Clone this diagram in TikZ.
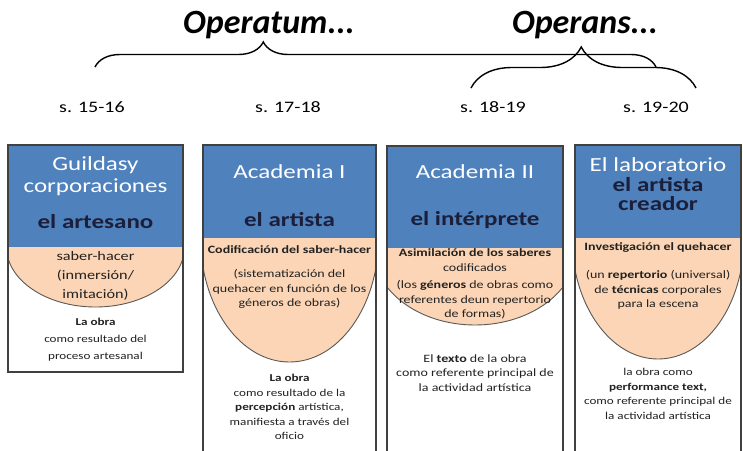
\documentclass[tikz,border=0pt]{standalone}
\usepackage{fontspec}
\setmainfont{Carlito}
\newfontfamily\widefont[FakeStretch=1.25]{Carlito}
\usepackage{tikz}
\usetikzlibrary{positioning,decorations.pathreplacing}

\definecolor{headblue}{HTML}{4F81BD}
\definecolor{peach}{HTML}{FBD5B5}
\definecolor{navy}{HTML}{1C1F3A}
\definecolor{ink}{HTML}{222222}

\begin{document}
\begin{tikzpicture}[x=1pt, y=-1pt,
  colbox/.style={draw=black!75, line width=1.1pt},
  bowl/.style={fill=peach, draw=black!65, line width=0.9pt},
  eratitle/.style={font=\fontsize{34}{34}\selectfont\bfseries\itshape},
  period/.style={font=\widefont\fontsize{16}{16}\selectfont, text=black},
  headw/.style={font=\widefont\fontsize{20}{22}\selectfont, text=white, align=center},
  headd/.style={font=\widefont\bfseries\fontsize{20}{19}\selectfont, text=navy, align=center},
  bodytext/.style={font=\widefont\fontsize{11.2}{14.5}\selectfont, text=ink, align=center},
  lowtext/.style={font=\widefont\fontsize{10.5}{14.5}\selectfont, text=ink, align=center},
  curly/.style={decorate, decoration={brace, amplitude=#1}, line width=1.4pt}
]
\useasboundingbox (0,0) rectangle (743,450);
%titles and periods
\node[eratitle] (opt) at (269,25) {Operatum...};
\node[eratitle] (opn) at (585,25) {Operans...};
\node[period] (s1) at (92,107) {s. 15-16};
\node[period] (s2) at (288,107) {s. 17-18};
\node[period] (s3) at (493,107) {s. 18-19};
\node[period] (s4) at (656,107) {s. 19-20};
\coordinate (b1a) at (95,67);
\coordinate (b1b) at (656,67);
\coordinate (b2a) at (471,88);
\coordinate (b2b) at (696,88);
\draw[curly=25pt, decoration={aspect=0.3}] (b1a) -- (b1b);
\draw[curly=41pt, decoration={aspect=0.49}] (b2a) -- (b2b);

%column 1
\fill[white] (8,145) rectangle (183,372);
\begin{scope}
\clip (8,145) rectangle (183,372);
\draw[bowl] (95.5,247) ellipse [x radius=89, y radius=60];
\fill[headblue] (8,145) rectangle (183,247);
\end{scope}
\draw[colbox] (8,145) rectangle (183,372);
\node[headw] (g1) at (95.5,176) {Guildasy\\corporaciones};
\node[headd] (r1) at (95.5,222) {el artesano};
\node[bodytext, font=\widefont\fontsize{13}{19}\selectfont] (p1) at (95.5,276) {saber-hacer\\(inmersión/\\imitación)};
\node[lowtext, font=\widefont\fontsize{10.5}{17}\selectfont] (o1) at (95.5,340) {\textbf{La obra}\\como resultado del\\proceso artesanal};

%column 2
\fill[white] (203,145) rectangle (376,452);
\begin{scope}
\clip (203,145) rectangle (376,452);
\draw[bowl] (289.5,238) ellipse [x radius=89, y radius=124];
\fill[headblue] (203,145) rectangle (376,238);
\end{scope}
\draw[colbox] (203,452) -- (203,145) -- (376,145) -- (376,452);
\node[headw] (g2) at (289.5,172) {Academia I};
\node[headd] (r2) at (289.5,220) {el artista};
\node[bodytext] (p2a) at (289.5,250) {\textbf{Codificación del saber-hacer}};
\node[bodytext] (p2b) at (289.5,289) {(sistematización del\\quehacer en función de los\\géneros de obras)};
\node[lowtext] (o2) at (289.5,407) {\textbf{La obra}\\como resultado de la\\\textbf{percepción} artística,\\manifiesta a través del\\oficio};

%column 3
\fill[white] (387,146) rectangle (563,452);
\begin{scope}
\clip (387,146) rectangle (563,452);
\draw[bowl] (475,248) ellipse [x radius=102, y radius=77];
\fill[headblue] (387,146) rectangle (563,248);
\end{scope}
\draw[colbox] (387,452) -- (387,146) -- (563,146) -- (563,452);
\node[headw] (g3) at (475,172) {Academia II};
\node[headd] (r3) at (475,220) {el intérprete};
\node[bodytext] (p3a) at (475,260) {\textbf{Asimilación de los saberes}\\codificados};
\node[bodytext] (p3b) at (475,300) {(los \textbf{géneros} de obras como\\referentes deun repertorio\\de formas)};
\node[lowtext, font=\widefont\fontsize{11.2}{14.5}\selectfont] (o3) at (475,373) {El \textbf{texto} de la obra\\como referente principal de\\la actividad artística};

%column 4
\fill[white] (575,145) rectangle (741,452);
\begin{scope}
\clip (575,145) rectangle (741,452);
\draw[bowl] (658,238) ellipse [x radius=86, y radius=121];
\fill[headblue] (575,145) rectangle (741,238);
\end{scope}
\draw[colbox] (575,452) -- (575,145) -- (741,145) -- (741,452);
\node[headw] (g4) at (658,165) {El laboratorio};
\node[headd] (r4) at (658,194) {el artista\\creador};
\node[bodytext] (p4a) at (658,248) {\textbf{Investigación el quehacer}};
\node[bodytext] (p4b) at (658,290) {(un \textbf{repertorio} (universal)\\de \textbf{técnicas} corporales\\para la escena};
\node[lowtext] (o4) at (658,394) {la obra como\\\textbf{performance text,}\\como referente principal de\\la actividad artística};
\end{tikzpicture}
\end{document}
